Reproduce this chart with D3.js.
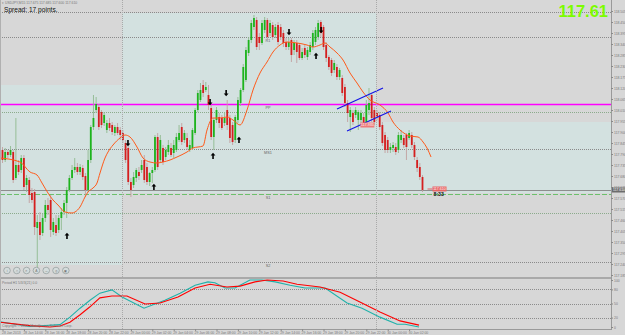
<!DOCTYPE html>
<meta charset="utf-8">

<style>
  body { margin: 0; background: #d7d7d7; }
  svg { display: block; font-family: "Liberation Sans", Arial, sans-serif; }
  .tiny { font-size: 3.4px; fill: #777; }
  .lvlLabel { font-size: 3.8px; fill: #666; text-anchor: middle; }
</style>

<body>
<script src="https://d3js.org/d3.v7.min.js"></script>
<script>

// USDJPY M15 bars (price)
const opens = [
117.810,117.760,117.800,117.785,117.800,117.670,117.735,117.710,117.770,117.635,
117.660,117.595,117.600,117.420,117.450,117.395,117.470,117.535,117.560,117.400,
117.435,117.410,117.470,117.500,117.545,117.610,117.670,117.710,117.725,117.700,
117.720,117.680,117.610,117.760,117.925,118.010,118.025,118.000,117.945,117.910,
117.945,117.935,117.895,117.925,117.910,117.895,117.845,117.820,117.650,117.635,
117.670,117.700,117.710,117.760,117.725,117.650,117.695,117.710,117.875,117.760,
117.820,117.775,117.800,117.820,117.795,117.810,117.860,117.925,117.860,117.870,
117.810,117.820,117.895,118.010,118.060,118.135,118.110,118.085,118.020,117.875,
117.960,117.975,117.970,117.945,118.010,117.970,117.935,117.860,117.960,118.045,
118.110,118.160,118.295,118.360,118.425,118.460,118.375,118.345,118.410,118.460,
118.395,118.435,118.385,118.435,118.425,118.395,118.350,118.325,118.360,118.310,
118.345,118.335,118.270,118.320,118.275,118.300,118.325,118.350,118.375,118.450,
118.425,118.335,118.275,118.260,118.210,118.225,118.175,118.170,118.125,118.045,
117.975,117.995,117.985,117.960,117.960,117.975,117.950,118.010,118.085,118.010,
117.995,117.985,117.935,117.885,117.860,117.810,117.820,117.825,117.810,117.860,
117.870,117.885,117.870,117.885,117.835,117.760,117.725,117.675]

const highs = [
117.825,117.820,117.810,117.830,117.810,117.970,117.760,117.785,117.785,117.685,
117.675,117.620,117.615,117.485,117.500,117.495,117.560,117.570,117.585,117.470,
117.485,117.485,117.520,117.560,117.625,117.685,117.735,117.770,117.745,117.740,
117.735,117.695,117.810,117.935,118.085,118.075,118.040,118.010,118.000,117.960,
117.970,117.950,117.935,117.945,117.925,117.910,117.860,117.830,117.670,117.700,
117.720,117.725,117.760,117.785,117.745,117.700,117.725,117.885,117.895,117.885,
117.835,117.825,117.860,117.845,117.860,117.895,117.935,117.945,117.910,117.895,
117.860,117.920,118.020,118.110,118.145,118.160,118.150,118.135,118.035,117.970,
118.025,117.995,117.985,118.000,118.060,117.985,117.950,117.985,118.075,118.120,
118.240,118.325,118.375,118.460,118.485,118.475,118.395,118.460,118.475,118.470,
118.460,118.450,118.440,118.450,118.440,118.410,118.370,118.370,118.370,118.360,
118.360,118.345,118.320,118.335,118.325,118.350,118.410,118.425,118.460,118.460,
118.435,118.350,118.285,118.270,118.260,118.240,118.220,118.185,118.140,118.060,
118.025,118.010,118.025,118.010,118.010,117.995,118.060,118.120,118.095,118.025,
118.010,118.000,117.950,117.900,117.875,117.845,117.850,117.845,117.900,117.910,
117.885,117.895,117.910,117.900,117.850,117.775,117.745,117.685]

const lows = [
117.745,117.750,117.770,117.775,117.645,117.660,117.685,117.695,117.610,117.600,
117.545,117.545,117.385,117.220,117.360,117.380,117.450,117.485,117.375,117.385,
117.380,117.395,117.410,117.485,117.470,117.600,117.660,117.695,117.685,117.685,
117.660,117.575,117.600,117.745,117.910,117.995,117.910,117.920,117.930,117.895,
117.905,117.885,117.880,117.885,117.860,117.845,117.745,117.635,117.575,117.620,
117.650,117.660,117.695,117.645,117.635,117.630,117.645,117.700,117.710,117.745,
117.735,117.760,117.785,117.775,117.770,117.800,117.850,117.835,117.845,117.810,
117.800,117.810,117.885,118.000,118.050,118.075,118.100,118.010,117.860,117.810,
117.945,117.920,117.910,117.930,117.910,117.845,117.835,117.845,117.945,118.030,
118.100,118.150,118.280,118.345,118.410,118.310,118.310,118.335,118.395,118.360,
118.380,118.360,118.370,118.335,118.360,118.325,118.310,118.310,118.250,118.285,
118.245,118.260,118.260,118.270,118.260,118.285,118.310,118.335,118.360,118.375,
118.310,118.250,118.210,118.180,118.195,118.160,118.160,118.080,118.025,117.950,
117.900,117.935,117.970,117.910,117.945,117.930,117.935,117.985,117.950,117.935,
117.960,117.910,117.830,117.795,117.795,117.795,117.800,117.785,117.795,117.845,
117.820,117.760,117.860,117.820,117.760,117.700,117.660,117.600]

const closes = [
117.760,117.800,117.785,117.810,117.660,117.735,117.700,117.770,117.625,117.670,
117.585,117.560,117.425,117.450,117.385,117.470,117.535,117.510,117.410,117.450,
117.395,117.470,117.500,117.545,117.610,117.670,117.710,117.725,117.700,117.725,
117.675,117.610,117.760,117.925,117.970,118.040,117.925,117.935,117.985,117.945,
117.920,117.900,117.925,117.895,117.885,117.860,117.760,117.650,117.610,117.675,
117.710,117.680,117.735,117.660,117.650,117.695,117.710,117.875,117.725,117.860,
117.750,117.810,117.835,117.785,117.835,117.875,117.895,117.850,117.895,117.825,
117.835,117.910,118.010,118.095,118.110,118.095,118.125,118.035,117.875,117.960,
118.010,117.945,117.920,117.970,117.935,117.870,117.850,117.975,118.060,118.110,
118.225,118.310,118.360,118.445,118.470,118.325,118.345,118.445,118.460,118.375,
118.445,118.375,118.425,118.350,118.375,118.345,118.325,118.350,118.285,118.345,
118.300,118.270,118.300,118.285,118.310,118.335,118.395,118.410,118.445,118.395,
118.325,118.270,118.225,118.195,118.245,118.175,118.210,118.095,118.045,117.995,
118.010,117.950,118.010,118.000,117.995,117.945,118.035,118.045,117.970,117.950,
117.975,117.925,117.845,117.810,117.810,117.825,117.835,117.800,117.885,117.885,
117.835,117.825,117.895,117.835,117.775,117.720,117.675,117.610]

// moving average (bar index, price)
const maIdx = [
-0.93,6.54,10.28,12.9,14.77,17.0,18.88,20.75,23.36,25.98,
27.1,28.97,30.84,31.96,33.83,35.33,36.45,38.32,39.44,41.31,
43.93,45.79,47.66,50.28,52.52,55.14,57.76,60.0,62.62,65.23,
68.97,71.21,74.95,76.45,78.69,81.31,83.93,86.17,88.79,91.4,
93.64,96.26,98.88,101.12,103.74,106.36,110.09,113.83,116.07,118.69,
120.56,122.43,125.05,127.29,129.91,132.52,134.77,137.38,141.12,144.11,
145.98,148.6,152.34,155.33,157.2,158.69,160.19]
const maVals = [
117.770,117.750,117.700,117.685,117.645,117.595,117.560,117.535,117.500,117.495,
117.500,117.525,117.575,117.600,117.620,117.645,117.695,117.770,117.800,117.835,
117.870,117.885,117.875,117.825,117.770,117.750,117.745,117.750,117.760,117.775,
117.800,117.820,117.830,117.910,117.970,117.970,117.975,117.960,117.935,118.010,
118.110,118.195,118.250,118.300,118.335,118.350,118.345,118.335,118.325,118.335,
118.345,118.325,118.295,118.260,118.195,118.145,118.100,118.060,118.035,117.995,
117.950,117.910,117.880,117.875,117.850,117.820,117.775]

// stochastic main / signal (bar index, value)
const stochMainIdx = [-0.93,10.28,21.5,25.2,29.0,32.7,36.4,40.9,44.7,52.9,60.7,66.4,72.0,76.8,79.4,83.2,86.9,92.5,97.0,101.9,107.5,113.1,120.6,128.8,134.4,141.1,147.5,150.5,155.7]
const stochMain = [11,1,5,21,40,57,72,79,64,40,57,72,89,96,94,83,83,100,100,96,89,83,83,51,40,21,6,6,0]
const stochSigIdx = [-0.93,10.28,17.76,21.5,25.2,29.0,32.7,36.4,40.9,46.5,53.3,58.9,65.6,72.0,77.6,83.9,88.8,94.4,98.9,104.9,110.1,118.7,126.2,133.6,141.1,148.6,155.7]
const stochSig = [10,3,0,2,10,26,43,62,66,66,49,51,64,83,91,85,87,96,100,98,91,85,74,53,32,13,4]
const stochLevels = [20, 50, 80]
const stochTicks = [0, 20, 50, 80, 100]

// pivot levels
const levelNames = ["", "R1", "PP", "", "MS1", "S1", "", "S2"]
const levelValues = [118.500, 118.375, 118.040, 118.000, 117.815, 117.590, 117.495, 117.250]
const levelKinds = ["dot", "dot", "pivot", "mid", "dot", "support", "mid", "dot"]

// daily range boxes and day breaks (bar index)
const zoneStart = [-1, 44.7, 139.7]
const zoneEnd = [44.7, 139.7, 230]
const zoneHigh = [118.135, 118.495, 117.950]
const zoneLow = [117.235, 117.595, 117.595]
const dayBreaks = [44.7, 139.7]

// fractals
const fracHighIdx = [46.9, 77.6, 83.6, 107.1, 119.1]
const fracHighPrice = [117.845, 118.050, 118.095, 118.400, 118.410]
const fracLowIdx = [24.1, 56.6, 78.7, 88.4, 117.2]
const fracLowPrice = [117.380, 117.625, 117.780, 117.860, 118.280]

// channel
const chanIdx0 = [125.05, 128.79], chanIdx1 = [142.24, 145.23]
const chanP0 = [118.015, 117.905], chanP1 = [118.120, 118.005]
const tradeLabelIdx = 136.4, tradeLabelPrice = 117.935

const priceTicks = [118.505,118.450,118.395,118.340,118.285,118.230,118.175,118.120,118.065,118.010,
  117.955,117.900,117.845,117.790,117.735,117.680,117.625,117.570,117.515,117.460,117.405,117.350,
  117.295,117.240,117.185]

const timeIdx = [0,8,16,24,32,40,48,56,64,72,80,88,96,104,112,120,128,136,144,152]
const timeLabels = ["28 Jan 2013","28 Jan 14:00","28 Jan 16:00","28 Jan 18:00","28 Jan 20:00","28 Jan 22:00",
  "29 Jan 00:00","29 Jan 02:00","29 Jan 04:00","29 Jan 06:00","29 Jan 08:00","29 Jan 10:00","29 Jan 12:00",
  "29 Jan 14:00","29 Jan 16:00","29 Jan 18:00","29 Jan 20:00","29 Jan 22:00","30 Jan 00:00","30 Jan 02:00"]

const spreadPoints = 17
const countdown = "8:33"

//SVG setup
const width = 625, height = 335
const paneRight = 611,
      mainBottom = 277,
      subTop = 279,
      subBottom = 329

const colors = {bg: '#d7d7d7',
                zone: '#d3e1e0',
                bull: '#1db41d',
                bear: '#d51f1f',
                bullWick: '#8fba8f',
                bearWick: '#c2a0a0',
                ma: '#ff5a1a',
                grid: '#8c8c8c',
                magenta: '#ff00ff',
                green: '#6cc06c',
                teal: '#20b2aa',
                frame: '#9a9a9a'}

const levelStyle = {
  dot: {color: '#8a8a8a', w: 1, dash: '1,1'},
  mid: {color: '#8cab8c', w: 1, dash: '1,1'},
  pivot: {color: colors.magenta, w: 1.6, dash: null},
  support: {color: colors.green, w: 1, dash: '5,2'}
}

const svg = d3.select("body")
  .append("svg")
    .attr("width", width)
    .attr("height", height)

svg.append("rect")
  .attr("width", width)
  .attr("height", height)
  .attr("fill", colors.bg)

const x = d3.scaleLinear().domain([0, 157]).range([2.5, 422.5])
const y = d3.scaleLinear().domain([117.175, 118.56]).range([mainBottom, 0])
const ys = d3.scaleLinear().domain([0, 100]).range([327, 280])

const defs = svg.append("defs")
defs.append("clipPath").attr("id", "mainClip")
  .append("rect").attr("width", paneRight).attr("height", mainBottom)
defs.append("clipPath").attr("id", "subClip")
  .append("rect").attr("y", subTop).attr("width", paneRight).attr("height", subBottom - subTop)

const main = svg.append("g").attr("clip-path", "url(#mainClip)")
const sub = svg.append("g").attr("clip-path", "url(#subClip)")

// range boxes
main.selectAll(".zone")
  .data(zoneStart)
  .enter().append("rect")
    .attr("class", "zone")
    .attr("x", d => x(d))
    .attr("width", (d, i) => x(zoneEnd[i]) - x(d))
    .attr("y", (d, i) => y(zoneHigh[i]))
    .attr("height", (d, i) => y(zoneLow[i]) - y(zoneHigh[i]))
    .attr("fill", colors.zone)

// day separators
svg.selectAll(".sep")
  .data(dayBreaks)
  .enter().append("line")
    .attr("x1", d => Math.round(x(d)) + 0.5)
    .attr("x2", d => Math.round(x(d)) + 0.5)
    .attr("y1", 0)
    .attr("y2", subBottom)
    .attr("stroke", "#a9a9a9")
    .attr("stroke-dasharray", "1,1")

// pivot levels
levelValues.forEach((v, i) => {
  const s = levelStyle[levelKinds[i]]
  const ly = Math.round(y(v)) + 0.5
  main.append("line")
    .attr("x1", 0).attr("x2", paneRight)
    .attr("y1", ly).attr("y2", ly)
    .attr("stroke", s.color)
    .attr("stroke-width", s.w)
    .attr("stroke-dasharray", s.dash)
  if (levelNames[i]) {
    main.append("text")
      .attr("class", "lvlLabel")
      .attr("x", 268)
      .attr("y", ly + 4)
      .text(levelNames[i])
  }
})

// bid line
const lastClose = closes[closes.length - 1]
main.append("line")
  .attr("x1", 0).attr("x2", paneRight)
  .attr("y1", Math.round(y(lastClose)) + 0.5)
  .attr("y2", Math.round(y(lastClose)) + 0.5)
  .attr("stroke", "#8e8e8e")

// candles
const bars = d3.range(opens.length)
main.selectAll(".wick")
  .data(bars)
  .enter().append("line")
    .attr("x1", i => x(i)).attr("x2", i => x(i))
    .attr("y1", i => y(highs[i])).attr("y2", i => y(lows[i]))
    .attr("stroke", i => closes[i] >= opens[i] ? colors.bullWick : colors.bearWick)
    .attr("stroke-width", 0.9)

main.selectAll(".body")
  .data(bars)
  .enter().append("rect")
    .attr("x", i => x(i) - 0.9)
    .attr("width", 1.8)
    .attr("y", i => y(Math.max(opens[i], closes[i])))
    .attr("height", i => Math.max(1, Math.abs(y(opens[i]) - y(closes[i]))))
    .attr("fill", i => closes[i] >= opens[i] ? colors.bull : colors.bear)

// moving average
main.append("path")
  .datum(maIdx)
  .attr("fill", "none")
  .attr("stroke", colors.ma)
  .attr("stroke-width", 1)
  .attr("d", d3.line().x(d => x(d)).y((d, i) => y(maVals[i])).curve(d3.curveMonotoneX))

// fractal arrows
const upArrow = "M0,-3.2L2.4,-0.6L0.8,-0.6L0.8,3L-0.8,3L-0.8,-0.6L-2.4,-0.6Z"
const downArrow = "M0,3.2L2.4,0.6L0.8,0.6L0.8,-3L-0.8,-3L-0.8,0.6L-2.4,0.6Z"
main.selectAll(".fh")
  .data(fracHighIdx)
  .enter().append("path")
    .attr("d", downArrow)
    .attr("transform", (d, i) => `translate(${x(d)},${y(fracHighPrice[i])})`)
    .attr("fill", "black")
main.selectAll(".fl")
  .data(fracLowIdx)
  .enter().append("path")
    .attr("d", upArrow)
    .attr("transform", (d, i) => `translate(${x(d)},${y(fracLowPrice[i])})`)
    .attr("fill", "black")

// channel lines
main.selectAll(".chan")
  .data(chanIdx0)
  .enter().append("line")
    .attr("x1", d => x(d))
    .attr("y1", (d, i) => y(chanP0[i]))
    .attr("x2", (d, i) => x(chanIdx1[i]))
    .attr("y2", (d, i) => y(chanP1[i]))
    .attr("stroke", "#1414e6")
    .attr("stroke-width", 1.2)

// trade label
main.append("rect")
  .attr("x", x(tradeLabelIdx) - 7).attr("y", y(tradeLabelPrice) - 2.5)
  .attr("width", 14).attr("height", 5)
  .attr("fill", "#ee7b7b")
main.append("text")
  .attr("x", x(tradeLabelIdx)).attr("y", y(tradeLabelPrice) + 1.3)
  .attr("text-anchor", "middle")
  .attr("font-size", 3.6).attr("fill", "white")
  .text(tradeLabelPrice.toFixed(3))

// last price tag + countdown
const lastX = x(closes.length - 1)
main.append("line")
  .attr("x1", lastX + 5).attr("x2", lastX + 10)
  .attr("y1", y(lastClose) - 1).attr("y2", y(lastClose) - 1)
  .attr("stroke", "#e06060")
main.append("rect")
  .attr("x", lastX + 10).attr("y", y(lastClose) - 3.5)
  .attr("width", 14).attr("height", 5)
  .attr("fill", "#e86464")
main.append("text")
  .attr("x", lastX + 17).attr("y", y(lastClose) + 0.3)
  .attr("text-anchor", "middle")
  .attr("font-size", 3.6).attr("fill", "white")
  .text(lastClose.toFixed(3))
main.append("text")
  .attr("x", lastX + 11).attr("y", y(lastClose) + 6)
  .attr("font-size", 5.2).attr("font-weight", "bold").attr("fill", "#111")
  .text(countdown)

// chart buttons
const buttonGlyphs = ["i", "◇", "✕", "A", "↔", "◎", "▣"]
svg.selectAll(".btn")
  .data(buttonGlyphs)
  .enter().append("g")
    .attr("transform", (d, i) => `translate(${7 + i * 9.8}, 270.5)`)
    .each(function(d) {
      const g = d3.select(this)
      g.append("circle").attr("r", 3.3).attr("fill", "#d4dcdc").attr("stroke", "#8f9a9a").attr("stroke-width", 0.7)
      g.append("text").attr("y", 1.2).attr("text-anchor", "middle").attr("font-size", 3.4).attr("fill", "#777").text(d)
    })

// separator between panes
svg.append("rect")
  .attr("x", 0).attr("y", mainBottom)
  .attr("width", paneRight).attr("height", subTop - mainBottom)
  .attr("fill", "#a9a9a9")

// stochastic pane
sub.selectAll(".slevel")
  .data(stochLevels)
  .enter().append("line")
    .attr("x1", 0).attr("x2", paneRight)
    .attr("y1", d => Math.round(ys(d)) + 0.5)
    .attr("y2", d => Math.round(ys(d)) + 0.5)
    .attr("stroke", colors.grid)
    .attr("stroke-dasharray", "1,1")

sub.append("path")
  .datum(stochMainIdx)
  .attr("fill", "none")
  .attr("stroke", colors.teal)
  .attr("stroke-width", 1.1)
  .attr("d", d3.line().x(d => x(d)).y((d, i) => ys(stochMain[i])))

sub.append("path")
  .datum(stochSigIdx)
  .attr("fill", "none")
  .attr("stroke", "#ff0000")
  .attr("stroke-width", 1.1)
  .attr("d", d3.line().x(d => x(d)).y((d, i) => ys(stochSig[i])))

svg.append("text")
  .attr("class", "tiny")
  .attr("x", 2).attr("y", 284)
  .text("Period H1 5/3/3(21) 0.0")

svg.append("text")
  .attr("class", "tiny")
  .attr("x", 2).attr("y", 327)
  .text("Copyright © 2013, MetaQuotes Software Corp.")

// frame
svg.append("line")
  .attr("x1", paneRight + 0.5).attr("x2", paneRight + 0.5)
  .attr("y1", 0).attr("y2", subBottom + 1)
  .attr("stroke", colors.frame)
svg.append("line")
  .attr("x1", 0).attr("x2", paneRight)
  .attr("y1", subBottom + 0.5).attr("y2", subBottom + 0.5)
  .attr("stroke", colors.frame)
svg.append("line")
  .attr("x1", 0.5).attr("x2", 0.5)
  .attr("y1", 0).attr("y2", subBottom)
  .attr("stroke", "#b0b0b0")

// axes
const priceAxis = svg.append("g")
  .attr("transform", `translate(${paneRight}, 0)`)
  .call(d3.axisRight(y).tickValues(priceTicks).tickSize(2).tickPadding(1).tickFormat(d3.format(".3f")))
const stochAxis = svg.append("g")
  .attr("transform", `translate(${paneRight}, 0)`)
  .call(d3.axisRight(ys).tickValues(stochTicks).tickSize(2).tickPadding(1))
const timeAxis = svg.append("g")
  .attr("transform", `translate(0, ${subBottom})`)
  .call(d3.axisBottom(x).tickValues(timeIdx).tickSize(2).tickFormat((d, i) => timeLabels[i]))

;[priceAxis, stochAxis, timeAxis].forEach(a => {
  a.select(".domain").remove()
  a.selectAll("line").attr("stroke", "#8a8a8a")
  a.selectAll("text").attr("font-size", 3.4).attr("fill", "#777")
})
timeAxis.selectAll("text")
  .attr("text-anchor", "start")
  .attr("x", -1)
  .attr("y", 3)
  .attr("dy", "0.71em")

// current price tag on axis
svg.append("rect")
  .attr("x", paneRight + 1).attr("y", y(lastClose) - 2.5)
  .attr("width", 14).attr("height", 5)
  .attr("fill", "#6c6c6c")
svg.append("text")
  .attr("x", paneRight + 2).attr("y", y(lastClose) + 1.2)
  .attr("font-size", 3.4).attr("fill", "white")
  .text(lastClose.toFixed(3))

// header texts
svg.append("text")
  .attr("class", "tiny")
  .attr("x", 2).attr("y", 4)
  .text(`▾ USDJPY,M15  ${opens[157].toFixed(3)} ${highs[157].toFixed(3)} ${lows[157].toFixed(3)} ${closes[157].toFixed(3)}`)

svg.append("text")
  .attr("x", 4).attr("y", 12)
  .attr("font-size", 6.6)
  .attr("fill", "#111")
  .text(`Spread: ${spreadPoints} points.`)

svg.append("text")
  .attr("x", 608).attr("y", 17)
  .attr("text-anchor", "end")
  .attr("font-size", 16.5)
  .attr("font-weight", "bold")
  .attr("fill", "#7cfc00")
  .text(lastClose.toFixed(2))

</script>

</body>
</html>
